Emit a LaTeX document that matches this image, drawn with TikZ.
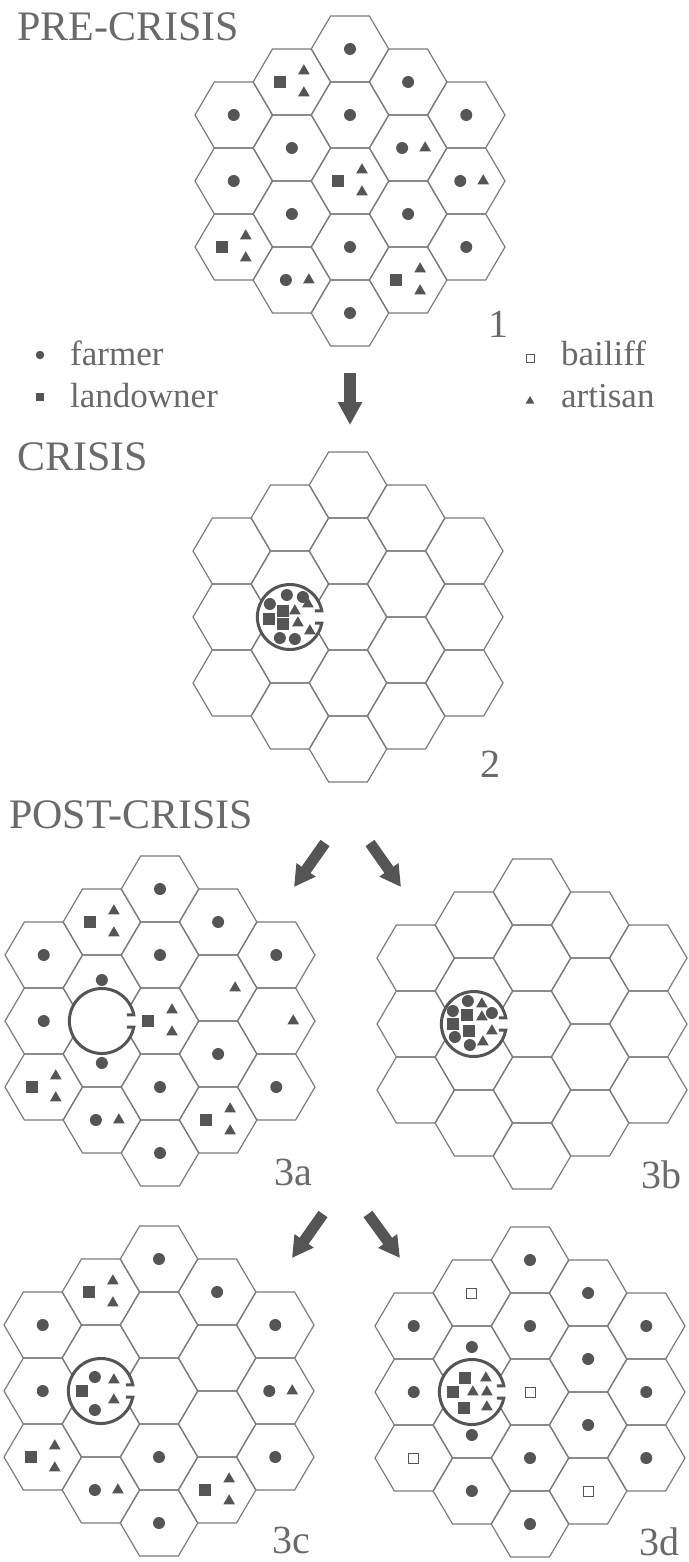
\documentclass[tikz,border=0pt]{standalone}
\usepackage{fontspec}
\setmainfont{Liberation Serif}
\usetikzlibrary{calc,shapes.geometric,arrows.meta}
\definecolor{hexc}{HTML}{7C7C7C}
\definecolor{symc}{HTML}{555555}
\definecolor{txtc}{HTML}{6A6A6A}
\newcount\symn
\newcommand\sym[3]{\global\advance\symn by 1\relax\node[#1] (sym\the\symn) at ($(#2)+(#3)$) {};}
\newcommand\LTT[1]{\sym{land}{#1}{-12,0}\sym{art}{#1}{12,-11}\sym{art}{#1}{12,11}}
\newcommand\FT[1]{\sym{farm}{#1}{-6,0}\sym{art}{#1}{17,0}}
\newcommand\Fa[1]{\sym{farm}{#1}{0,0}}
\newcommand\Ta[1]{\sym{art}{#1}{17,0}}
\newcommand\Ba[1]{\sym{bail}{#1}{0,0}}
\newcommand\hexgrid[3]{%
  \foreach \c/\cn/\js in {-2/a/{-2,0,2},-1/b/{-3,-1,1,3},0/c/{-4,-2,0,2,4},1/d/{-3,-1,1,3},2/e/{-2,0,2}}{%
    \foreach \j [count=\k] in \js {%
      \coordinate (#1\cn\k) at ({#2+\c*58.125},{#3+\j*33});
      \draw[hexl] (#1\cn\k) ++(-38.75,0) -- ++(19.375,-33) -- ++(38.75,0) -- ++(19.375,33) -- ++(-19.375,33) -- ++(-38.75,0) -- cycle;
    }}}
\newcommand\gate[1]{%
  \fill[white] (#1) circle[radius=32.5];
  \draw[gatel] ($(#1)+(25,-6.2)$) -- ++(6.9,0) arc[start angle=349, end angle=11, radius=32.5] -- ++(-6.9,0);}
\begin{document}
\begin{tikzpicture}[x=1pt,y=-1pt,
  hexl/.style={draw=hexc, line width=1.2pt, line join=miter},
  gatel/.style={draw=symc, line width=3pt},
  farm/.style={circle, fill=symc, inner sep=0pt, minimum size=12pt},
  land/.style={rectangle, fill=symc, inner sep=0pt, minimum size=11.5pt},
  art/.style={regular polygon, regular polygon sides=3, fill=symc, inner sep=0pt, minimum size=13.5pt},
  bail/.style={rectangle, draw=symc, fill=white, line width=1pt, inner sep=0pt, minimum size=10pt},
  title/.style={font=\fontsize{42}{50}\selectfont, text=txtc, anchor=base west, inner sep=0pt},
  lab/.style={font=\fontsize{40}{48}\selectfont, text=txtc, anchor=base west, inner sep=0pt},
  legt/.style={font=\fontsize{35}{42}\selectfont, text=txtc, anchor=base west, inner sep=0pt},
  bigarrow/.style={draw=symc, line width=12pt, -{Triangle[width=23pt,length=23pt]}},
  diagarrow/.style={draw=symc, line width=11pt, -{Triangle[width=22pt,length=21pt]}}]
\fill[white] (0,0) rectangle (688,1562);
\useasboundingbox (0,0) rectangle (688,1562);

% titles
\node[title] (tpre) at (17,41) {PRE-CRISIS};
\node[title] (tcri) at (17,470) {CRISIS};
\node[title] (tpost) at (9,828) {POST-CRISIS};

% ---------- panel 1
\hexgrid{P}{350}{181}
\Fa{Pc1}\Fa{Pc2}\LTT{Pc3}\Fa{Pc4}\Fa{Pc5}
\LTT{Pb1}\Fa{Pb2}\Fa{Pb3}\FT{Pb4}
\Fa{Pa1}\Fa{Pa2}\LTT{Pa3}
\Fa{Pd1}\FT{Pd2}\Fa{Pd3}\LTT{Pd4}
\Fa{Pe1}\FT{Pe2}\Fa{Pe3}
\node[lab] (l1) at (488,337) {1};

% legend
\node[farm, minimum size=8.5pt] (kf) at (40,355) {};
\node[legt] (kft) at (70,365) {farmer};
\node[land, minimum size=8pt] (kl) at (40,397) {};
\node[legt] (klt) at (70,407) {landowner};
\node[bail, minimum size=8pt, line width=0.9pt] (kb) at (530,358) {};
\node[legt] (kbt) at (561,365) {bailiff};
\node[art, minimum size=10pt] (ka) at (530,401) {};
\node[legt] (kat) at (561,407) {artisan};

% arrow 1 -> 2
\coordinate (a1s) at (350,373);
\coordinate (a1e) at (350,425);
\draw[bigarrow] (a1s) -- (a1e);

% ---------- panel 2
\hexgrid{Q}{348}{617}
\coordinate (Qg) at ($(Qb2)!0.5!(Qb3)$);
\gate{Qg}
\sym{farm}{Qg}{-3,-22}\sym{farm}{Qg}{13,-20}\sym{farm}{Qg}{-20,-13}
\sym{farm}{Qg}{-10,21}\sym{farm}{Qg}{5,22}
\sym{land}{Qg}{-7,-6}\sym{land}{Qg}{-21,2}\sym{land}{Qg}{-7,7}
\sym{art}{Qg}{5,-6}\sym{art}{Qg}{18,-13}\sym{art}{Qg}{8,6}\sym{art}{Qg}{20,14}
\node[lab] (l2) at (480,777) {2};

% arrows 2 -> 3a, 3b
\coordinate (a2s) at (325,843);
\coordinate (a2e) at (294,887);
\draw[diagarrow] (a2s) -- (a2e);
\coordinate (a3s) at (370,843);
\coordinate (a3e) at (401,887);
\draw[diagarrow] (a3s) -- (a3e);

% ---------- panel 3a
\hexgrid{R}{160}{1021}
\coordinate (Rg) at ($(Rb2)!0.5!(Rb3)$);
\gate{Rg}
\Fa{Rc1}\Fa{Rc2}\LTT{Rc3}\Fa{Rc4}\Fa{Rc5}
\LTT{Rb1}\sym{farm}{Rb2}{0,-8}\sym{farm}{Rb3}{0,9}\FT{Rb4}
\Fa{Ra1}\Fa{Ra2}\LTT{Ra3}
\Fa{Rd1}\Ta{Rd2}\Fa{Rd3}\LTT{Rd4}
\Fa{Re1}\Ta{Re2}\Fa{Re3}
\node[lab] (l3a) at (274,1185) {3a};

% ---------- panel 3b
\hexgrid{S}{532}{1024}
\coordinate (Sg) at ($(Sb2)!0.5!(Sb3)$);
\gate{Sg}
\sym{farm}{Sg}{-6,-23}\sym{farm}{Sg}{-21,-13}\sym{farm}{Sg}{18,-11}
\sym{farm}{Sg}{-19,13}\sym{farm}{Sg}{-4,21}
\sym{land}{Sg}{-7,-9}\sym{land}{Sg}{-21,0}\sym{land}{Sg}{-5,7}
\sym{art}{Sg}{8,-20}\sym{art}{Sg}{8,-7}\sym{art}{Sg}{18,7}\sym{art}{Sg}{9,18}
\node[lab] (l3b) at (641,1188) {3b};

% arrows 3a -> 3c, 3d
\coordinate (a4s) at (323,1214);
\coordinate (a4e) at (292,1258);
\draw[diagarrow] (a4s) -- (a4e);
\coordinate (a5s) at (368,1214);
\coordinate (a5e) at (400,1258);
\draw[diagarrow] (a5s) -- (a5e);

% ---------- panel 3c
\hexgrid{T}{159}{1391}
\coordinate (Tg) at ($(Tb2)!0.5!(Tb3)$);
\gate{Tg}
\Fa{Tc1}\Fa{Tc4}\Fa{Tc5}
\LTT{Tb1}\FT{Tb4}
\Fa{Ta1}\Fa{Ta2}\LTT{Ta3}
\Fa{Td1}\LTT{Td4}
\Fa{Te1}\FT{Te2}\Fa{Te3}
\sym{farm}{Tg}{-6,-14}\sym{farm}{Tg}{-6,19}\sym{land}{Tg}{-19,0}
\sym{art}{Tg}{13,-11}\sym{art}{Tg}{13,9}
\node[lab] (l3c) at (272,1553) {3c};

% ---------- panel 3d
\hexgrid{U}{530}{1392}
\coordinate (Ug) at ($(Ub2)!0.5!(Ub3)$);
\gate{Ug}
\Fa{Uc1}\Fa{Uc2}\Ba{Uc3}\Fa{Uc4}\Fa{Uc5}
\Ba{Ub1}\sym{farm}{Ub2}{0,-12}\sym{farm}{Ub3}{0,10}\Fa{Ub4}
\Fa{Ua1}\Fa{Ua2}\Ba{Ua3}
\Fa{Ud1}\Fa{Ud2}\Fa{Ud3}\Ba{Ud4}
\Fa{Ue1}\Fa{Ue2}\Fa{Ue3}
\sym{land}{Ug}{-7,-14}\sym{land}{Ug}{-19,0}\sym{land}{Ug}{-8,16}
\sym{art}{Ug}{14,-14}\sym{art}{Ug}{1,0}\sym{art}{Ug}{15,0}\sym{art}{Ug}{15,15}
\node[lab] (l3d) at (639,1555) {3d};
\end{tikzpicture}
\end{document}
